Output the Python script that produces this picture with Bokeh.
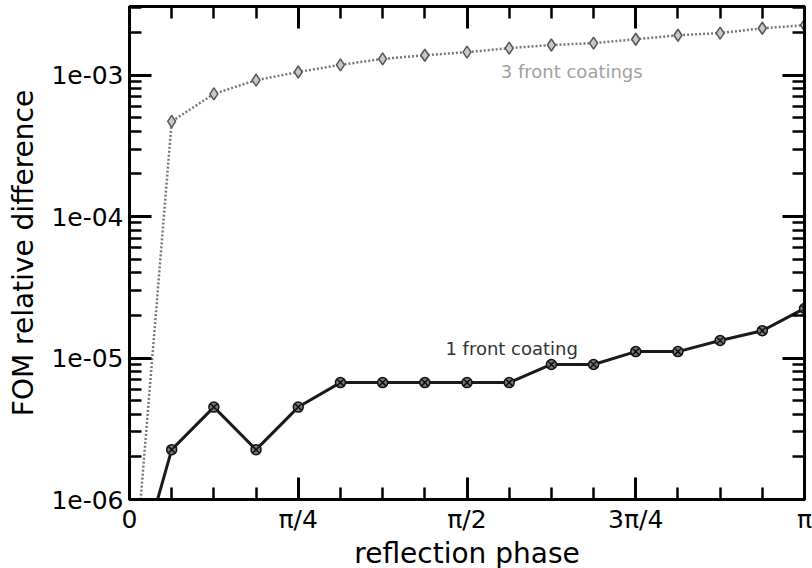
from bokeh.plotting import figure
from bokeh.models import (ColumnDataSource, FixedTicker, LogTicker, LogAxis,
                          LinearAxis, Range1d, CustomJSTickFormatter)
from bokeh.core.properties import value
from bokeh.embed import file_html
from bokeh.resources import INLINE

# reflection phase, in units of pi
phase = [0.0, 0.0625, 0.125, 0.1875, 0.25, 0.3125, 0.375, 0.4375, 0.5,
         0.5625, 0.625, 0.6875, 0.75, 0.8125, 0.875, 0.9375, 1.0]
one_coating = [2.0e-7, 2.25e-6, 4.5e-6, 2.25e-6, 4.5e-6, 6.7e-6, 6.7e-6,
               6.7e-6, 6.7e-6, 6.7e-6, 9.0e-6, 9.0e-6, 1.11e-5, 1.11e-5,
               1.33e-5, 1.56e-5, 2.24e-5]
three_coatings = [1.1e-7, 4.7e-4, 7.35e-4, 9.2e-4, 1.05e-3, 1.18e-3, 1.30e-3,
                  1.38e-3, 1.45e-3, 1.55e-3, 1.63e-3, 1.68e-3, 1.79e-3,
                  1.91e-3, 1.98e-3, 2.14e-3, 2.25e-3]
x_tick_values = [0, 0.25, 0.5, 0.75, 1]
x_tick_labels = ["0", "π/4", "π/2", "3π/4", "π"]
x_minor_ticks = [0.0625 * i for i in range(17)]
note_texts = ["3 front coatings", "1 front coating"]
note_x = [0.55, 0.468]
note_y = [1.06e-3, 1.17e-5]
note_colors = ["#a0a0a0", "#333333"]

FONT = "DejaVu Sans"

p = figure(frame_width=675, frame_height=493, y_axis_type="log",
           x_range=Range1d(0, 1), y_range=Range1d(1e-6, 3.05e-3),
           output_backend="svg", toolbar_location=None,
           min_border_left=129, min_border_right=8, min_border_top=5,
           min_border_bottom=70)
p.background_fill_color = "white"
p.border_fill_color = "white"
p.grid.visible = False
p.outline_line_color = "black"
p.outline_line_width = 3

src1 = ColumnDataSource(dict(x=phase, y=one_coating))
src3 = ColumnDataSource(dict(x=phase, y=three_coatings))

p.line("x", "y", source=src3, line_color="#777777", line_width=2.5,
       line_dash="2 2")
p.scatter("x", "y", source=src3, marker="diamond", size=12,
          fill_color="#c8c8c8", line_color="#555555", line_width=1.5)
p.line("x", "y", source=src1, line_color="#1a1a1a", line_width=3)
p.scatter("x", "y", source=src1, marker="circle_x", size=10,
          fill_color="#777777", line_color="#111111", line_width=1.5)

notes = ColumnDataSource(dict(x=note_x, y=note_y, t=note_texts, c=note_colors))
p.text("x", "y", text="t", source=notes, text_color="c",
       text_font=value(FONT), text_font_size="18px", text_baseline="middle",
       text_align="left")

xticker = FixedTicker(ticks=x_tick_values, minor_ticks=x_minor_ticks)
overrides = {v: l for v, l in zip(x_tick_values, x_tick_labels)}

log_fmt = CustomJSTickFormatter(code="""
const e = Math.round(Math.log10(tick));
const s = String(Math.abs(e)).padStart(2, "0");
return "1e" + (e < 0 ? "-" : "+") + s;
""")
blank_fmt = CustomJSTickFormatter(code="return ' ';")


def style_axis(ax):
    ax.axis_line_width = 3
    ax.axis_line_color = "black"
    ax.major_tick_in = 22
    ax.major_tick_out = 0
    ax.minor_tick_in = 12
    ax.minor_tick_out = 0
    ax.major_tick_line_width = 3
    ax.minor_tick_line_width = 2.5
    ax.major_tick_line_color = "black"
    ax.minor_tick_line_color = "black"


xa = p.xaxis[0]
xa.ticker = xticker
xa.major_label_overrides = overrides
style_axis(xa)
xa.major_label_text_font = FONT
xa.major_label_text_font_size = "25px"
xa.major_label_text_color = "black"
xa.major_label_standoff = 5
xa.axis_label = "reflection phase"
xa.axis_label_text_font = FONT
xa.axis_label_text_font_size = "28px"
xa.axis_label_text_font_style = "normal"
xa.axis_label_text_color = "black"
xa.axis_label_standoff = 0

ya = p.yaxis[0]
ya.ticker = LogTicker(num_minor_ticks=10)
ya.formatter = log_fmt
style_axis(ya)
ya.major_label_text_font = FONT
ya.major_label_text_font_size = "25px"
ya.major_label_text_color = "black"
ya.major_label_standoff = 6
ya.axis_label = "FOM relative difference"
ya.axis_label_text_font = FONT
ya.axis_label_text_font_size = "28px"
ya.axis_label_text_font_style = "normal"
ya.axis_label_text_color = "black"
ya.axis_label_standoff = 8

top = LinearAxis(ticker=xticker, formatter=blank_fmt)
style_axis(top)
top.major_label_text_font_size = "3px"
top.major_label_standoff = 0
p.add_layout(top, "above")

right = LogAxis(ticker=LogTicker(num_minor_ticks=10), formatter=blank_fmt)
style_axis(right)
right.major_label_text_font_size = "3px"
right.major_label_standoff = 0
p.add_layout(right, "right")

open("out.html", "w").write(file_html(p, INLINE))
